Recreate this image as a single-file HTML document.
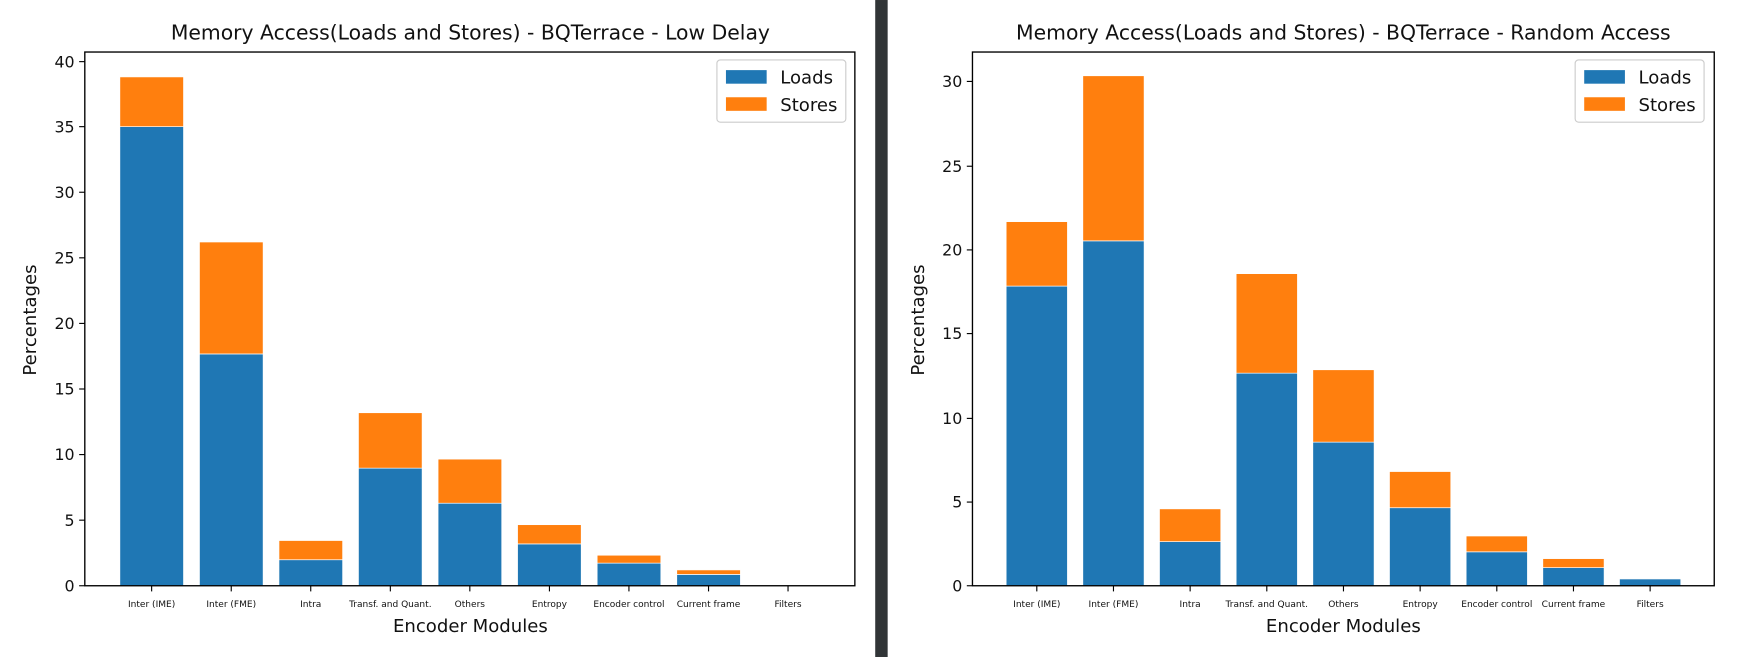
<!DOCTYPE html>
<html><head><meta charset="utf-8"><style>html,body{margin:0;padding:0;background:#fff}svg{display:block}</style></head>
<body>
<svg width="1764" height="657" viewBox="0 0 1560 581" xmlns="http://www.w3.org/2000/svg" font-family="DejaVu Sans, Liberation Sans, sans-serif">
<rect width="1560" height="581" fill="#fff"/>
<rect x="774" y="0" width="11" height="581" fill="#313537"/>

<!-- LEFT CHART -->
<text x="416" y="35" font-size="18" text-anchor="middle" fill="#111">Memory Access(Loads and Stores) - BQTerrace - Low Delay</text>
<g stroke="#fff" stroke-width="0.6">
<rect x="106" y="112" width="56.3" height="406" fill="#1f77b4"/><rect x="106" y="68" width="56.3" height="44" fill="#ff7f0e"/>
<rect x="176.4" y="313" width="56.3" height="205" fill="#1f77b4"/><rect x="176.4" y="214" width="56.3" height="99" fill="#ff7f0e"/>
<rect x="246.7" y="495" width="56.3" height="23" fill="#1f77b4"/><rect x="246.7" y="478" width="56.3" height="17" fill="#ff7f0e"/>
<rect x="317" y="414" width="56.3" height="104" fill="#1f77b4"/><rect x="317" y="365" width="56.3" height="49" fill="#ff7f0e"/>
<rect x="387.4" y="445" width="56.3" height="73" fill="#1f77b4"/><rect x="387.4" y="406" width="56.3" height="39" fill="#ff7f0e"/>
<rect x="457.7" y="481" width="56.3" height="37" fill="#1f77b4"/><rect x="457.7" y="464" width="56.3" height="17" fill="#ff7f0e"/>
<rect x="528.1" y="498" width="56.3" height="20" fill="#1f77b4"/><rect x="528.1" y="491" width="56.3" height="7" fill="#ff7f0e"/>
<rect x="598.5" y="508" width="56.3" height="10" fill="#1f77b4"/><rect x="598.5" y="504" width="56.3" height="4" fill="#ff7f0e"/>
</g>
<rect x="75" y="46" width="681" height="472" fill="none" stroke="#000" stroke-width="1.2"/>
<g stroke="#000" stroke-width="1">
<line x1="70" y1="518" x2="75" y2="518"/><line x1="70" y1="460" x2="75" y2="460"/><line x1="70" y1="402" x2="75" y2="402"/><line x1="70" y1="344" x2="75" y2="344"/><line x1="70" y1="286" x2="75" y2="286"/><line x1="70" y1="228" x2="75" y2="228"/><line x1="70" y1="170" x2="75" y2="170"/><line x1="70" y1="112" x2="75" y2="112"/><line x1="70" y1="54.5" x2="75" y2="54.5"/>
<line x1="134.1" y1="518" x2="134.1" y2="523"/><line x1="204.5" y1="518" x2="204.5" y2="523"/><line x1="274.8" y1="518" x2="274.8" y2="523"/><line x1="345.2" y1="518" x2="345.2" y2="523"/><line x1="415.5" y1="518" x2="415.5" y2="523"/><line x1="485.9" y1="518" x2="485.9" y2="523"/><line x1="556.2" y1="518" x2="556.2" y2="523"/><line x1="626.6" y1="518" x2="626.6" y2="523"/><line x1="696.9" y1="518" x2="696.9" y2="523"/>
</g>
<g font-size="14" text-anchor="end" fill="#111">
<text x="66" y="523">0</text><text x="66" y="465">5</text><text x="66" y="407">10</text><text x="66" y="349">15</text><text x="66" y="291">20</text><text x="66" y="233">25</text><text x="66" y="175">30</text><text x="66" y="117">35</text><text x="66" y="59.5">40</text>
</g>
<g font-size="8" text-anchor="middle" fill="#111">
<text x="134.1" y="537">Inter (IME)</text><text x="204.5" y="537">Inter (FME)</text><text x="274.8" y="537">Intra</text><text x="345.2" y="537">Transf. and Quant.</text><text x="415.5" y="537">Others</text><text x="485.9" y="537">Entropy</text><text x="556.2" y="537">Encoder control</text><text x="626.6" y="537">Current frame</text><text x="696.9" y="537">Filters</text>
</g>
<text x="416" y="559" font-size="16" text-anchor="middle" fill="#111">Encoder Modules</text>
<text transform="translate(32,283) rotate(-90)" font-size="16" text-anchor="middle" fill="#111">Percentages</text>
<rect x="634" y="53" width="114" height="55" rx="3" fill="#fff" stroke="#ccc"/>
<rect x="642" y="62" width="36" height="12" fill="#1f77b4"/><text x="690" y="74" font-size="16" fill="#111">Loads</text>
<rect x="642" y="86" width="36" height="12" fill="#ff7f0e"/><text x="690" y="98" font-size="16" fill="#111">Stores</text>

<!-- RIGHT CHART -->
<text x="1188" y="35" font-size="18" text-anchor="middle" fill="#111">Memory Access(Loads and Stores) - BQTerrace - Random Access</text>
<g stroke="#fff" stroke-width="0.6">
<rect x="889.8" y="253" width="54.2" height="265" fill="#1f77b4"/><rect x="889.8" y="196" width="54.2" height="57" fill="#ff7f0e"/>
<rect x="957.6" y="213" width="54.2" height="305" fill="#1f77b4"/><rect x="957.6" y="67" width="54.2" height="146" fill="#ff7f0e"/>
<rect x="1025.4" y="479" width="54.2" height="39" fill="#1f77b4"/><rect x="1025.4" y="450" width="54.2" height="29" fill="#ff7f0e"/>
<rect x="1093.2" y="330" width="54.2" height="188" fill="#1f77b4"/><rect x="1093.2" y="242" width="54.2" height="88" fill="#ff7f0e"/>
<rect x="1161" y="391" width="54.2" height="127" fill="#1f77b4"/><rect x="1161" y="327" width="54.2" height="64" fill="#ff7f0e"/>
<rect x="1228.8" y="449" width="54.2" height="69" fill="#1f77b4"/><rect x="1228.8" y="417" width="54.2" height="32" fill="#ff7f0e"/>
<rect x="1296.6" y="488" width="54.2" height="30" fill="#1f77b4"/><rect x="1296.6" y="474" width="54.2" height="14" fill="#ff7f0e"/>
<rect x="1364.4" y="502" width="54.2" height="16" fill="#1f77b4"/><rect x="1364.4" y="494" width="54.2" height="8" fill="#ff7f0e"/>
<rect x="1432.2" y="512" width="54.2" height="6" fill="#1f77b4"/>
</g>
<rect x="860" y="46" width="656" height="472" fill="none" stroke="#000" stroke-width="1.2"/>
<g stroke="#000" stroke-width="1">
<line x1="855" y1="518" x2="860" y2="518"/><line x1="855" y1="444" x2="860" y2="444"/><line x1="855" y1="370" x2="860" y2="370"/><line x1="855" y1="295" x2="860" y2="295"/><line x1="855" y1="221" x2="860" y2="221"/><line x1="855" y1="147" x2="860" y2="147"/><line x1="855" y1="72" x2="860" y2="72"/>
<line x1="916.9" y1="518" x2="916.9" y2="523"/><line x1="984.7" y1="518" x2="984.7" y2="523"/><line x1="1052.5" y1="518" x2="1052.5" y2="523"/><line x1="1120.3" y1="518" x2="1120.3" y2="523"/><line x1="1188.1" y1="518" x2="1188.1" y2="523"/><line x1="1255.9" y1="518" x2="1255.9" y2="523"/><line x1="1323.7" y1="518" x2="1323.7" y2="523"/><line x1="1391.5" y1="518" x2="1391.5" y2="523"/><line x1="1459.3" y1="518" x2="1459.3" y2="523"/>
</g>
<g font-size="14" text-anchor="end" fill="#111">
<text x="851" y="523">0</text><text x="851" y="449">5</text><text x="851" y="375">10</text><text x="851" y="300">15</text><text x="851" y="226">20</text><text x="851" y="152">25</text><text x="851" y="77">30</text>
</g>
<g font-size="8" text-anchor="middle" fill="#111">
<text x="916.9" y="537">Inter (IME)</text><text x="984.7" y="537">Inter (FME)</text><text x="1052.5" y="537">Intra</text><text x="1120.3" y="537">Transf. and Quant.</text><text x="1188.1" y="537">Others</text><text x="1255.9" y="537">Entropy</text><text x="1323.7" y="537">Encoder control</text><text x="1391.5" y="537">Current frame</text><text x="1459.3" y="537">Filters</text>
</g>
<text x="1188" y="559" font-size="16" text-anchor="middle" fill="#111">Encoder Modules</text>
<text transform="translate(817,283) rotate(-90)" font-size="16" text-anchor="middle" fill="#111">Percentages</text>
<rect x="1393" y="53" width="114" height="55" rx="3" fill="#fff" stroke="#ccc"/>
<rect x="1401" y="62" width="36" height="12" fill="#1f77b4"/><text x="1449" y="74" font-size="16" fill="#111">Loads</text>
<rect x="1401" y="86" width="36" height="12" fill="#ff7f0e"/><text x="1449" y="98" font-size="16" fill="#111">Stores</text>
</svg>
</body></html>
